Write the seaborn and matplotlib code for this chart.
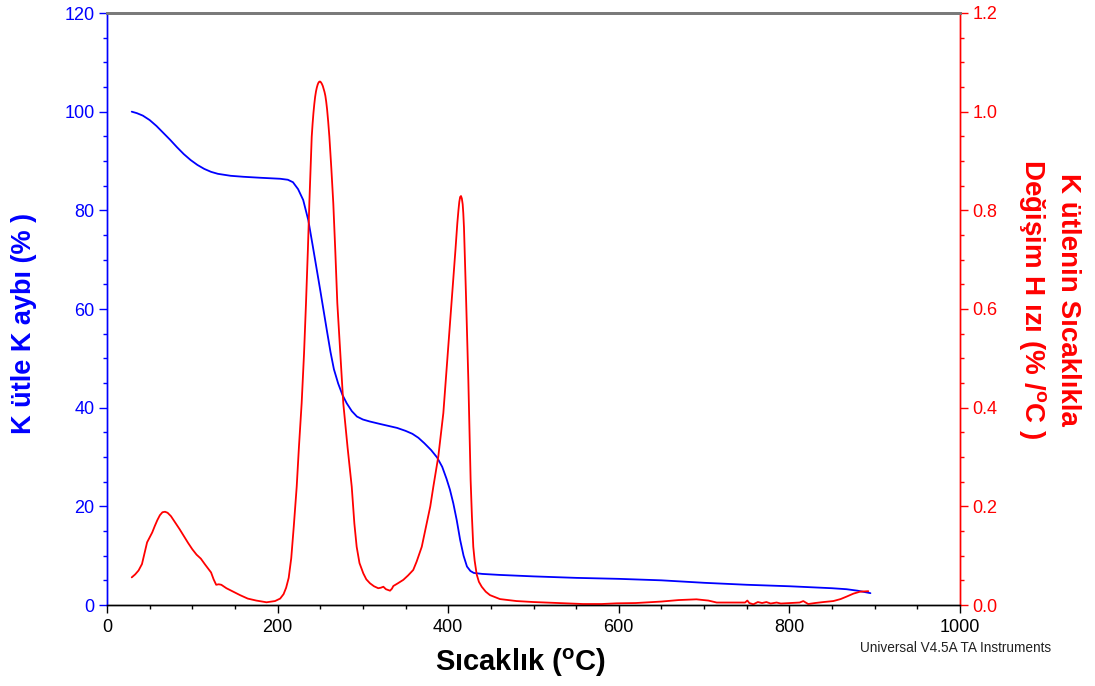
import matplotlib
matplotlib.use("Agg")
import matplotlib.pyplot as plt
from matplotlib.ticker import MultipleLocator, FormatStrFormatter
import seaborn as sns
import pandas as pd

# ---- data ----
temp_mass = [29, 35, 42, 50, 58, 66, 74, 82, 90, 98, 106, 114, 122, 130, 145, 160, 180,
             203, 212, 218, 224, 230, 236, 241, 246, 250, 254, 258, 262, 266, 271,
             276, 281, 287, 293, 300, 308, 320, 330, 340, 350, 358, 365, 372, 380,
             387, 393, 398, 402, 406, 410, 414, 418, 422, 426, 430, 440, 460, 500,
             550, 600, 650, 700, 750, 800, 850, 867, 880, 895]
mass_pct = [100.0, 99.7, 99.2, 98.3, 97.1, 95.7, 94.3, 92.8, 91.4, 90.2, 89.2, 88.4,
            87.8, 87.4, 87.0, 86.8, 86.6, 86.4, 86.2, 85.7, 84.3, 82.1, 78.0, 73.0,
            67.9, 63.8, 59.6, 55.4, 51.3, 47.8, 44.9, 42.6, 40.9, 39.3, 38.2, 37.6,
            37.2, 36.7, 36.3, 35.9, 35.3, 34.7, 33.9, 32.8, 31.4, 29.9, 28.0, 25.6,
            23.4, 20.6, 17.2, 13.2, 10.0, 7.8, 6.9, 6.5, 6.3, 6.1, 5.8, 5.5, 5.3,
            5.0, 4.5, 4.1, 3.8, 3.4, 3.2, 2.9, 2.4]

temp_rate = [29, 33, 37, 41, 44, 47, 50, 53, 56, 59, 62, 65, 68, 71, 75, 80, 85, 90,
             95, 100, 105, 110, 115, 119, 122, 125, 128, 131, 134, 140, 148, 156, 165,
             175, 187, 197, 203, 207, 210, 213, 216, 219, 222.4, 225, 228.2, 231,
             233.3, 235.5, 237.2, 238.7, 240, 241, 242, 243, 244, 245, 246, 247, 248,
             249, 250, 251, 252, 253, 254, 255, 256, 257, 258, 259.3, 260.7, 263,
             265.3, 267.7, 270, 273.5, 277, 282, 286.9, 290, 292.7, 296, 300.5, 304,
             308.3, 313, 318, 321, 324, 327, 331.8, 334, 335.7, 341, 347.4, 353, 359,
             363, 369, 374.8, 379, 382.6, 388.4, 394.3, 400.1, 403, 406, 408.5, 410.7,
             412, 413, 414, 415, 416, 417, 417.7, 418.5, 419.3, 420.9, 423.6, 426.3,
             427.8, 429.4, 431, 433.4, 436, 439.3, 444, 449, 455, 460.7, 480, 500,
             530, 558, 580, 597.6, 620, 650, 670, 691, 705, 714.8, 730, 748, 750.7,
             753, 757.7, 763, 768, 773, 778, 785, 790, 800, 812, 816.3, 822, 830,
             840, 851.5, 860, 867, 875, 882.8, 892.5]
rate = [0.056, 0.062, 0.070, 0.083, 0.105, 0.127, 0.137, 0.147, 0.160, 0.172, 0.182,
        0.188, 0.189, 0.187, 0.180, 0.167, 0.154, 0.140, 0.126, 0.113, 0.102, 0.094,
        0.082, 0.073, 0.066, 0.052, 0.041, 0.042, 0.041, 0.034, 0.027, 0.020, 0.013,
        0.009, 0.0055, 0.008, 0.013, 0.022, 0.035, 0.055, 0.095, 0.16, 0.240, 0.32,
        0.409, 0.51, 0.612, 0.72, 0.814, 0.885, 0.949, 0.975, 0.997, 1.015, 1.030,
        1.041, 1.049, 1.055, 1.059, 1.061, 1.061, 1.059, 1.056, 1.052, 1.046, 1.040,
        1.032, 1.020, 1.005, 0.980, 0.949, 0.885, 0.814, 0.715, 0.612, 0.51,
        0.409, 0.32, 0.240, 0.165, 0.118, 0.085, 0.064, 0.052, 0.044, 0.038, 0.034,
        0.035, 0.037, 0.032, 0.029, 0.033, 0.0385, 0.044, 0.051, 0.060, 0.071,
        0.088, 0.118, 0.165, 0.20, 0.240, 0.301, 0.389, 0.524, 0.59, 0.659, 0.72,
        0.774, 0.800, 0.817, 0.827, 0.829, 0.824, 0.812, 0.794, 0.765, 0.72, 0.625,
        0.456, 0.253, 0.18, 0.118, 0.09, 0.062, 0.047, 0.037, 0.027, 0.020, 0.016,
        0.012, 0.008, 0.006, 0.004, 0.002, 0.002, 0.0034, 0.004, 0.007, 0.010,
        0.0115, 0.009, 0.005, 0.005, 0.005, 0.009, 0.004, 0.0014, 0.006, 0.004,
        0.006, 0.003, 0.005, 0.003, 0.004, 0.005, 0.008, 0.002, 0.004, 0.006,
        0.008, 0.012, 0.017, 0.023, 0.027, 0.028]

x_label = "Sıcaklık ($^{\\mathbf{o}}$C)"
y_left_label = "K ütle K aybı (% )"
y_right_label = "K ütlenin Sıcaklıkla\nDeğişim H ızı (% /$^{\\mathbf{o}}$C )"
footer = "Universal V4.5A TA Instruments"

# ---- style ----
sns.set_style("white")
plt.rcParams["font.family"] = ["Liberation Sans", "DejaVu Sans"]
plt.rcParams["mathtext.fontset"] = "custom"
plt.rcParams["mathtext.rm"] = "Liberation Sans"
plt.rcParams["mathtext.bf"] = "Liberation Sans:bold"
plt.rcParams["mathtext.it"] = "Liberation Sans:italic"

BLUE = "#0000FF"
RED = "#FF0000"
W, H = 1095, 686

fig = plt.figure(figsize=(10.95, 6.86), dpi=100)
ax = fig.add_axes([107 / W, 1 - 605 / H, (960 - 107) / W, (605 - 13) / H])
ax2 = ax.twinx()

df_mass = pd.DataFrame({"T": temp_mass, "m": mass_pct})
df_rate = pd.DataFrame({"T": temp_rate, "r": rate})

sns.lineplot(data=df_mass, x="T", y="m", ax=ax, color=BLUE, lw=1.3,
             estimator=None, sort=False)
sns.lineplot(data=df_rate, x="T", y="r", ax=ax2, color=RED, lw=1.3,
             estimator=None, sort=False)

ax.set_xlim(0, 1000)
ax.set_ylim(0, 120)
ax2.set_ylim(0, 1.2)

ax.xaxis.set_major_locator(MultipleLocator(200))
ax.xaxis.set_minor_locator(MultipleLocator(50))
ax.yaxis.set_major_locator(MultipleLocator(20))
ax.yaxis.set_minor_locator(MultipleLocator(5))
ax2.yaxis.set_major_locator(MultipleLocator(0.2))
ax2.yaxis.set_minor_locator(MultipleLocator(0.05))
ax2.yaxis.set_major_formatter(FormatStrFormatter("%.1f"))

for a in (ax, ax2):
    for s in a.spines.values():
        s.set_linewidth(1.0)
    a.spines["top"].set_color("#7a7a7a")
    a.spines["top"].set_linewidth(2.0)
    a.spines["left"].set_color(BLUE)
    a.spines["right"].set_color(RED)
    a.spines["bottom"].set_color("black")
    a.grid(False)

ax.tick_params(axis="x", which="major", direction="out", length=6, width=1,
               colors="black", labelsize=13, pad=4, bottom=True)
ax.tick_params(axis="x", which="minor", direction="out", length=3, width=1,
               colors="black", bottom=True)
ax.tick_params(axis="y", which="major", direction="out", length=6, width=1,
               colors=BLUE, labelsize=13, pad=3, left=True)
ax.tick_params(axis="y", which="minor", direction="out", length=3, width=1,
               colors=BLUE, left=True)
ax2.tick_params(axis="y", which="major", direction="out", length=6, width=1,
                colors=RED, labelsize=13, pad=3, right=True)
ax2.tick_params(axis="y", which="minor", direction="out", length=3, width=1,
                colors=RED, right=True)

ax.set_xlabel("")
ax.set_ylabel("")
ax2.set_ylabel("")

fig.text(521 / W, 1 - 663 / H, x_label, fontsize=21, fontweight="bold",
         color="black", ha="center", va="center")
fig.text(24 / W, 1 - 323 / H, y_left_label, fontsize=19.5, fontweight="bold",
         color=BLUE, ha="center", va="center", rotation=90)
fig.text(1049 / W, 1 - 299 / H, y_right_label, fontsize=20, fontweight="bold",
         color=RED, ha="center", va="center", rotation=270, linespacing=1.3,
         multialignment="center")

fig.text(1051 / W, 1 - 648 / H, footer, fontsize=9.8, color="#222222",
         ha="right", va="center")

fig.savefig("out.png", dpi=100)
